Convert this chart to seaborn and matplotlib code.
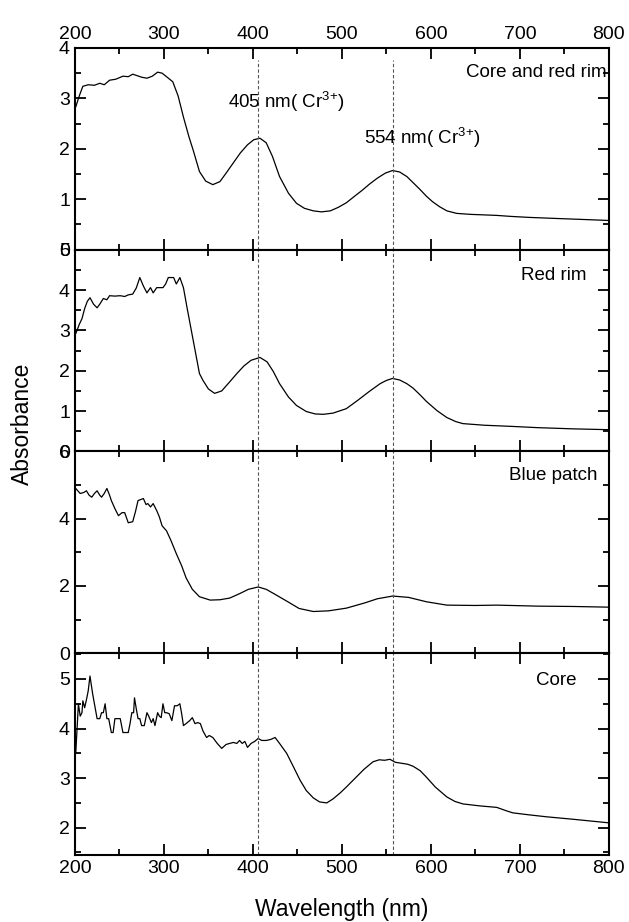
import matplotlib
matplotlib.use("Agg")
import matplotlib.pyplot as plt
from matplotlib.ticker import MultipleLocator
import pandas as pd
import seaborn as sns

# wavelength (nm) / absorbance
wl_core_red = [201, 205, 209, 215, 222, 228, 233, 239, 246, 254, 260, 265, 270, 275, 281, 287, 293, 298,
               303, 310, 316, 322, 328, 333, 340, 347, 355, 363, 370, 378, 386, 394, 401, 408, 415, 422,
               430, 440, 449, 458, 468, 477, 487, 496, 505, 515, 523, 531, 540, 549, 557, 565, 573, 580,
               588, 595, 602, 610, 618, 629, 645, 660, 674, 690, 711, 740, 770, 799]
abs_core_red = [2.83, 3.05, 3.24, 3.27, 3.26, 3.30, 3.27, 3.36, 3.38, 3.44, 3.43, 3.48, 3.45, 3.42, 3.40,
                3.44, 3.52, 3.50, 3.43, 3.33, 3.05, 2.63, 2.25, 1.97, 1.55, 1.36, 1.29, 1.35, 1.52, 1.72,
                1.92, 2.08, 2.18, 2.21, 2.12, 1.85, 1.45, 1.12, 0.92, 0.82, 0.77, 0.75, 0.77, 0.84, 0.93,
                1.07, 1.18, 1.30, 1.42, 1.52, 1.57, 1.54, 1.45, 1.33, 1.19, 1.06, 0.95, 0.85, 0.77, 0.72,
                0.70, 0.69, 0.68, 0.66, 0.64, 0.62, 0.60, 0.58]

wl_red_rim = [201, 205, 208, 211, 214, 217, 221, 225, 228, 232, 236, 239, 245, 251, 256, 260, 265, 269,
              273, 277, 281, 285, 288, 292, 299, 302, 305, 311, 314, 318, 322, 326, 333, 340, 344, 350,
              357, 365, 373, 382, 390, 398, 408, 416, 423, 430, 440, 449, 460, 470, 479, 490, 505, 518,
              531, 543, 550, 557, 565, 573, 580, 588, 595, 607, 618, 628, 636, 660, 692, 720, 760, 799]
abs_red_rim = [2.92, 3.15, 3.29, 3.54, 3.72, 3.81, 3.65, 3.56, 3.65, 3.79, 3.76, 3.86, 3.85, 3.86, 3.84,
               3.88, 3.90, 4.05, 4.31, 4.10, 3.93, 4.06, 3.93, 4.06, 4.06, 4.15, 4.31, 4.31, 4.15, 4.31,
               4.06, 3.57, 2.75, 1.93, 1.76, 1.55, 1.44, 1.50, 1.70, 1.93, 2.12, 2.26, 2.33, 2.22, 1.98,
               1.68, 1.35, 1.14, 0.99, 0.93, 0.92, 0.95, 1.06, 1.27, 1.49, 1.68, 1.76, 1.81, 1.77, 1.68,
               1.57, 1.40, 1.24, 1.01, 0.84, 0.74, 0.69, 0.65, 0.62, 0.59, 0.56, 0.54]

wl_blue = [201, 206, 210, 213, 216, 219, 222, 225, 228, 230, 233, 236, 239, 241, 245, 249, 253, 256, 260,
           265, 268, 271, 277, 280, 282, 285, 288, 292, 295, 298, 303, 308, 314, 320, 325, 332, 340, 352,
           363, 374, 385, 395, 406, 415, 425, 438, 452, 468, 485, 505, 525, 540, 557, 575, 595, 618, 650,
           674, 720, 760, 799]
abs_blue = [4.90, 4.75, 4.78, 4.83, 4.70, 4.64, 4.75, 4.83, 4.70, 4.64, 4.75, 4.90, 4.70, 4.54, 4.30, 4.09,
            4.18, 4.18, 3.88, 3.91, 4.20, 4.54, 4.60, 4.42, 4.45, 4.35, 4.45, 4.24, 4.05, 3.79, 3.64, 3.35,
            2.96, 2.60, 2.24, 1.90, 1.68, 1.58, 1.59, 1.64, 1.77, 1.90, 1.97, 1.90, 1.75, 1.55, 1.33, 1.24,
            1.26, 1.34, 1.49, 1.62, 1.70, 1.66, 1.53, 1.43, 1.42, 1.43, 1.40, 1.39, 1.37]

wl_core = [201, 204, 206, 208, 209, 211, 213, 215, 217, 220, 223, 225, 228, 230, 232, 234, 236, 238, 241,
           243, 245, 248, 251, 254, 257, 260, 262, 264, 266, 267, 269, 271, 273, 275, 278, 281, 283, 286,
           288, 290, 293, 295, 297, 299, 301, 303, 306, 309, 312, 315, 318, 320, 322, 325, 329, 332, 335,
           338, 341, 344, 348, 351, 355, 360, 365, 370, 374, 378, 382, 385, 388, 391, 394, 398, 402, 406,
           410, 415, 420, 425, 430, 438, 445, 453, 460, 468, 475, 483, 490, 498, 505, 515, 525, 535, 542,
           548, 554, 560, 567, 574, 580, 588, 595, 605, 618, 627, 636, 655, 674, 685, 692, 710, 730, 760, 799]
abs_core = [3.50, 4.50, 4.25, 4.32, 4.56, 4.42, 4.58, 4.76, 5.06, 4.70, 4.40, 4.20, 4.20, 4.32, 4.32, 4.50,
            4.20, 4.20, 3.92, 3.92, 4.20, 4.20, 4.20, 3.92, 3.92, 3.92, 4.10, 4.32, 4.32, 4.62, 4.40, 4.20,
            4.20, 4.06, 4.06, 4.32, 4.25, 4.12, 4.20, 4.06, 4.32, 4.25, 4.22, 4.50, 4.32, 4.32, 4.30, 4.16,
            4.46, 4.46, 4.50, 4.30, 4.06, 4.10, 4.16, 4.22, 4.10, 4.12, 4.10, 3.95, 3.82, 3.86, 3.82, 3.70,
            3.60, 3.68, 3.70, 3.72, 3.70, 3.76, 3.70, 3.74, 3.62, 3.70, 3.74, 3.80, 3.76, 3.76, 3.78, 3.82,
            3.70, 3.50, 3.25, 2.96, 2.75, 2.60, 2.52, 2.50, 2.58, 2.70, 2.82, 3.00, 3.18, 3.33, 3.37, 3.36,
            3.38, 3.32, 3.30, 3.28, 3.24, 3.15, 3.02, 2.82, 2.62, 2.53, 2.48, 2.44, 2.41, 2.34, 2.30, 2.26,
            2.22, 2.17, 2.10]

panel_names = ["Core and red rim", "Red rim", "Blue patch", "Core"]
panel_data = [(wl_core_red, abs_core_red), (wl_red_rim, abs_red_rim), (wl_blue, abs_blue), (wl_core, abs_core)]
y_limits = [(0, 4), (0, 5), (0, 6), (1.45, 5.52)]
y_steps = [(1, 0.5), (1, 0.5), (2, 1), (1, 0.5)]
label_pos = [(0.996, 0.88), (0.959, 0.87), (0.978, 0.88), (0.94, 0.867)]
peak_lines = [406, 557]

sns.set_style("ticks")
plt.rcParams["font.family"] = ["Liberation Sans", "DejaVu Sans"]
plt.rcParams["mathtext.fontset"] = "custom"
plt.rcParams["mathtext.rm"] = "Liberation Sans"
plt.rcParams["mathtext.default"] = "rm"
plt.rcParams["text.color"] = "black"
plt.rcParams["axes.labelcolor"] = "black"

fig, axes = plt.subplots(4, 1, figsize=(6.29, 9.22), dpi=100, sharex=True)
fig.subplots_adjust(left=0.119, right=0.968, top=0.948, bottom=0.0727, hspace=0)

for i, ax in enumerate(axes):
    wl, ab = panel_data[i]
    df = pd.DataFrame({"wavelength": wl, "absorbance": ab})
    sns.lineplot(data=df, x="wavelength", y="absorbance", ax=ax, color="black", linewidth=0.9)

    for xv in peak_lines:
        ax.axvline(xv, ymin=0, ymax=0.94 if i == 0 else 1, color="#555555",
                   linestyle=(0, (3, 2)), linewidth=0.8)

    ax.set_xlim(200, 800)
    ax.set_ylim(*y_limits[i])
    ax.xaxis.set_major_locator(MultipleLocator(100))
    ax.xaxis.set_minor_locator(MultipleLocator(50))
    ax.yaxis.set_major_locator(MultipleLocator(y_steps[i][0]))
    ax.yaxis.set_minor_locator(MultipleLocator(y_steps[i][1]))
    ax.tick_params(which="both", direction="in", top=True, right=True, width=1.3,
                   labelsize=14, colors="black")
    ax.tick_params(which="major", length=8)
    ax.tick_params(which="minor", length=4)
    ax.tick_params(axis="x", labelbottom=(i == 3), labeltop=(i == 0))
    for s in ax.spines.values():
        s.set_linewidth(1.5)
        s.set_color("black")
    ax.set_xlabel("")
    ax.set_ylabel("")
    ax.text(label_pos[i][0], label_pos[i][1], panel_names[i], transform=ax.transAxes,
            ha="right", va="center", fontsize=13.5, color="black")

axes[0].text(372, 2.93, "405 nm( Cr$^{3{+}}$)", ha="left", va="center", fontsize=13.5, color="black")
axes[0].text(525, 2.21, "554 nm( Cr$^{3{+}}$)", ha="left", va="center", fontsize=13.5, color="black")

axes[3].set_xlabel("Wavelength (nm)", fontsize=16.5, labelpad=15, color="black")
fig.text(0.035, 1 - 424 / 922, "Absorbance", rotation=90, ha="center", va="center",
         fontsize=16.5, color="black")

fig.savefig("out.png", dpi=100)
